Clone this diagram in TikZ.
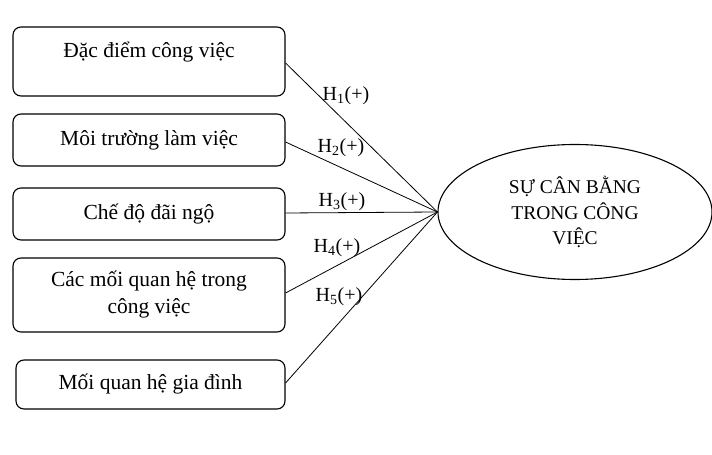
\documentclass[tikz,border=0pt]{standalone}
\usepackage{fontspec}
\setmainfont{Liberation Serif}
\usetikzlibrary{shapes.geometric}
\begin{document}
\begin{tikzpicture}[x=1pt,y=1pt,
  boxfont/.style={font=\fontsize{21.5}{27}\selectfont},
  factor/.style={draw, line width=1.1pt, rounded corners=8pt, minimum width=272pt, inner sep=0pt, align=center, boxfont},
  hyp/.style={font=\fontsize{20}{22}\selectfont, inner sep=0pt},
  link/.style={line width=0.8pt}]
\useasboundingbox (0,0) rectangle (712,455);
\node[factor, minimum height=69pt] (f1) at (149,393.5) {};
\node[boxfont] (t1) at (149,403) {Đặc điểm công việc};
\node[factor, minimum height=52pt] (f2) at (149,315) {Môi trường làm việc};
\node[factor, minimum height=52pt] (f3) at (149,241) {Chế độ đãi ngộ};
\node[factor, minimum height=74pt] (f4) at (149,160) {Các mối quan hệ trong\\công việc};
\node[factor, minimum height=49pt, minimum width=269pt] (f5) at (150.5,70.5) {Mối quan hệ gia đình};
\node[draw, ellipse, line width=1.1pt, minimum width=274pt, minimum height=135pt, inner sep=0pt, align=center, font=\fontsize{19.5}{25.5}\selectfont] (goal) at (575,243) {SỰ CÂN BẰNG\\TRONG CÔNG\\VIỆC};
\draw[link] (f1.east |- 0,392) -- (goal.west);
\draw[link] (f2.east |- 0,313) -- (goal.west);
\draw[link] (f3.east |- 0,242) -- (goal.west);
\draw[link] (f4.east |- 0,162) -- (goal.west);
\draw[link] (f5.east |- 0,72) -- (goal.west);
\node[hyp] (h1) at (346,359) {H\textsubscript{1}(+)};
\node[hyp] (h2) at (341,307) {H\textsubscript{2}(+)};
\node[hyp] (h3) at (342,253) {H\textsubscript{3}(+)};
\node[hyp] (h4) at (337,207) {H\textsubscript{4}(+)};
\node[hyp] (h5) at (339,158) {H\textsubscript{5}(+)};
\end{tikzpicture}
\end{document}
